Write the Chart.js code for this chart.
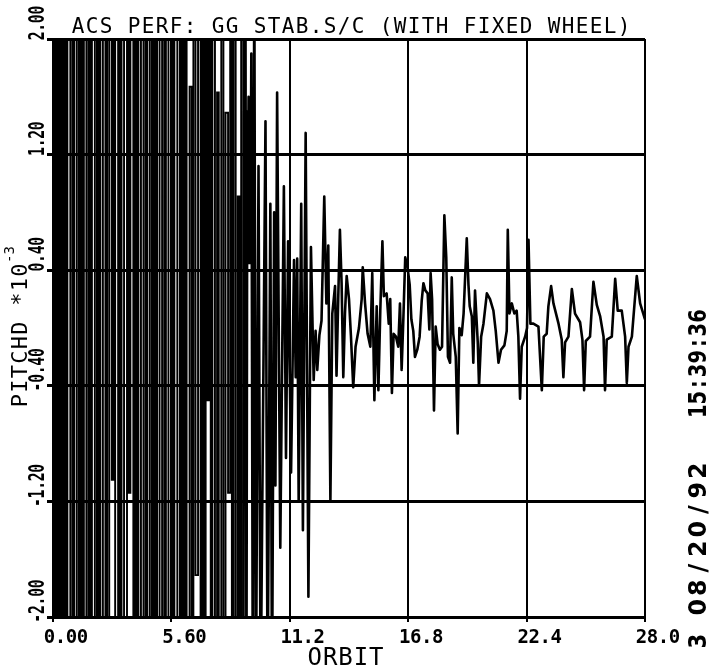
<!DOCTYPE html>
<html>
<head>
<meta charset="utf-8">
<title>ACS PERF: GG STAB.S/C (WITH FIXED WHEEL)</title>
<script src="https://cdn.jsdelivr.net/npm/chart.js@4.4.1/dist/chart.umd.min.js"></script>
<style>
  html, body { margin: 0; padding: 0; background: #fff; }
  #wrap { width: 709px; height: 670px; }
</style>
</head>
<body>
<div id="wrap"><canvas id="pitchChart" width="709" height="670"></canvas></div>
<script>
// Capture phase: pitch swings past the +/-2 limits every sample, drawn as steps
const captureOrbit = [
  0.00, 0.05, 0.12, 0.19, 0.26, 0.33, 0.40, 0.47, 0.54, 0.61, 0.68,
  0.82, 0.92, 1.00, 1.12, 1.22, 1.30, 1.38, 1.46, 1.58, 1.68,
  1.76, 1.84, 1.98, 2.08, 2.16, 2.24, 2.36, 2.48, 2.56, 2.66,
  2.78, 2.86, 2.94, 3.08, 3.16, 3.24, 3.36, 3.50, 3.58, 3.66,
  3.80, 3.88, 3.96, 4.04, 4.16, 4.28, 4.38, 4.46, 4.58, 4.68,
  4.76, 4.84, 4.92, 5.04, 5.16, 5.26, 5.34, 5.46, 5.58, 5.66,
  5.74, 5.88, 6.00, 6.08, 6.16, 6.24, 6.32, 6.46, 6.56, 6.64,
  6.74, 6.86, 6.98, 7.06, 7.14, 7.22, 7.30, 7.38, 7.46, 7.54,
  7.66, 7.76, 7.84, 7.96, 8.06, 8.16, 8.28, 8.38, 8.46, 8.54,
  8.64, 8.74, 8.82, 8.90, 9.00
];
const capturePitch = [
  2.6, -2.6, 2.6, -2.6, 2.6, -2.6, 2.6, -2.6, 2.6, -2.6, 2.6,
  -2.6, 2.6, -2.6, 2.6, -2.6, 2.6, -2.6, 2.6, -2.6, 2.6,
  -2.6, 2.6, -2.6, 2.6, -2.6, 2.6, -2.6, 2.6, -2.6, 2.6,
  -1.05, 2.6, -2.6, 2.6, -2.6, 2.6, -2.6, 2.6, -1.14, 2.6,
  -2.6, 2.6, -2.6, 2.6, -2.6, 2.6, -2.6, 2.6, -2.6, 2.6,
  -2.6, 2.6, -2.6, 2.6, -2.6, 2.6, -2.6, 2.6, -2.6, 2.6,
  -2.6, 2.6, -2.6, 2.6, -2.6, 2.6, -2.6, 1.67, -2.6, 2.6,
  -1.71, 2.6, -2.6, 2.6, -2.6, 2.6, -0.50, 2.6, -2.6, 2.6,
  -2.6, 1.63, -2.6, 2.6, -2.6, 1.49, -1.14, 2.6, -2.6, 2.6,
  -2.6, 0.91, -2.6, 2.6, -2.6
];

// Recovery: swings shrink, then a once-per-orbit limit cycle inside +/-0.4
const recoveryOrbit = [
  9.00, 9.04, 9.07, 9.10, 9.15, 9.19, 9.22, 9.25, 9.28, 9.31,
  9.34, 9.38, 9.45, 9.52, 9.60, 9.72, 9.82, 10.05, 10.15, 10.28,
  10.36, 10.46, 10.52, 10.60, 10.75, 10.92, 11.02, 11.12, 11.26, 11.40,
  11.48, 11.55, 11.62, 11.74, 11.82, 11.95, 12.08, 12.20,
  12.28, 12.33, 12.42, 12.50, 12.60, 12.70, 12.83, 12.93, 13.02,
  13.12, 13.21, 13.34, 13.41, 13.49, 13.57, 13.65, 13.73, 13.81, 13.89,
  14.00, 14.09, 14.20, 14.31, 14.47, 14.60, 14.65, 14.76, 14.88, 15.01,
  15.10, 15.20, 15.31, 15.39, 15.48, 15.58, 15.65, 15.78, 15.88, 15.95,
  16.03, 16.11, 16.22, 16.33, 16.41, 16.49, 16.57, 16.66, 16.77, 16.87,
  16.95, 17.04, 17.12, 17.23, 17.34, 17.44, 17.52, 17.61, 17.72, 17.80,
  17.86, 17.93, 18.02, 18.10, 18.19, 18.30, 18.40, 18.51, 18.60, 18.68,
  18.78, 18.86, 18.93, 19.05, 19.14, 19.22, 19.33, 19.42, 19.57, 19.65,
  19.71, 19.81, 19.88, 19.96, 20.09, 20.15, 20.25, 20.36, 20.52, 20.67,
  20.83, 20.94, 21.07, 21.19, 21.35, 21.46, 21.51, 21.59, 21.70, 21.82,
  21.93, 22.01, 22.09, 22.17, 22.33, 22.42, 22.49, 22.58, 22.72, 22.96,
  23.12, 23.21, 23.35, 23.43, 23.56, 23.67, 23.91, 24.06, 24.14, 24.22,
  24.38, 24.54, 24.69, 24.93, 25.04, 25.12, 25.20, 25.40, 25.56, 25.72,
  25.88, 26.04, 26.11, 26.19, 26.43, 26.59, 26.71, 26.90, 27.06, 27.14,
  27.22, 27.38, 27.61, 27.77, 28.00
];
const recoveryPitch = [
  -2.6, 1.50, 0.45, 2.6, -2.6, 1.50, 0.50, 1.60, 0.45, 1.45,
  0.50, 1.90, -2.6, 2.6, -2.6, 1.12, -2.6, 1.43, -2.6, 0.86,
  -2.6, 0.80, -1.09, 1.63, -1.52, 0.98, -0.90, 0.60, -1.00, 0.47,
  -0.34, 0.48, -1.20, 0.86, -1.40, 1.35, -1.86, 0.56,
  -0.01, -0.36, -0.02, -0.29, -0.05, 0.05, 0.91, 0.17, 0.57,
  -1.19, 0.10, 0.29, -0.33, 0.20, 0.68, 0.31, -0.34, 0.10, 0.36,
  0.20, -0.05, -0.41, -0.13, 0.00, 0.20, 0.42, 0.17, -0.04, -0.13,
  0.38, -0.50, 0.15, -0.43, 0.12, 0.60, 0.22, 0.24, 0.03, 0.20,
  -0.45, -0.04, -0.06, -0.13, 0.17, -0.29, 0.06, 0.49, 0.42, 0.30,
  0.06, -0.02, -0.20, -0.15, -0.06, 0.19, 0.31, 0.26, 0.24, -0.01,
  0.38, 0.20, -0.57, 0.01, -0.11, -0.15, -0.13, 0.78, 0.49, -0.20,
  -0.24, 0.35, -0.04, -0.20, -0.73, 0.00, -0.05, 0.10, 0.62, 0.30,
  0.15, 0.08, -0.24, 0.26, -0.10, -0.40, -0.06, 0.03, 0.24, 0.20,
  0.12, -0.02, -0.24, -0.15, -0.12, -0.02, 0.68, 0.10, 0.17, 0.10,
  0.12, -0.06, -0.49, -0.13, -0.06, 0.00, 0.61, 0.03, 0.03, 0.01,
  -0.43, -0.06, -0.04, 0.15, 0.29, 0.17, 0.03, -0.08, -0.34, -0.10,
  -0.06, 0.27, 0.10, 0.04, -0.08, -0.43, -0.09, -0.06, 0.32, 0.16,
  0.08, -0.06, -0.43, -0.08, -0.06, 0.34, 0.12, 0.12, -0.06, -0.38,
  -0.13, -0.06, 0.36, 0.17, 0.06
];

// Axis ticks
const orbitTicks = [0, 5.6, 11.2, 16.8, 22.4, 28.0];
const orbitTickLabels = ['0.00', '5.60', '11.2', '16.8', '22.4', '28.0'];
const pitchTicks = [-2.0, -1.2, -0.4, 0.4, 1.2, 2.0];
const pitchTickLabels = ['-2.00', '-1.20', '-0.40', '0.40', '1.20', '2.00'];

const INK = '#000';

function toPoints(xs, ys) {
    return xs.map((x, i) => ({ x: x, y: ys[i] }));
}

// Draw a string one glyph per fixed-width cell (plotter style)
function cellText(ctx, text, x, y, pitch) {
    ctx.textAlign = 'center';
    for (let i = 0; i < text.length; i++) {
        ctx.fillText(text[i], x + pitch * (i + 0.5), y);
    }
}

// Same, but running bottom-to-top from (x, y)
function cellTextUp(ctx, text, x, y, pitch, squeeze) {
    ctx.save();
    ctx.translate(x, y);
    ctx.rotate(-Math.PI / 2);
    if (squeeze) ctx.scale(squeeze, 1);
    cellText(ctx, text, 0, 0, pitch / (squeeze || 1));
    ctx.restore();
}

const plotterText = {
    id: 'plotterText',
    afterDraw(chart) {
        const ctx = chart.ctx;
        const xs = chart.scales.x;
        const ys = chart.scales.y;
        ctx.save();
        ctx.fillStyle = INK;
        ctx.textBaseline = 'alphabetic';

        // title
        ctx.font = '21px "DejaVu Sans Mono"';
        cellText(ctx, 'ACS PERF: GG STAB.S/C (WITH FIXED WHEEL)', 71, 33, 14);

        // orbit tick labels
        ctx.font = 'bold 19px "DejaVu Sans Mono"';
        orbitTicks.forEach((v, i) => {
            cellText(ctx, orbitTickLabels[i], xs.getPixelForValue(v) - 9, 643, 11);
        });

        // x axis title
        ctx.font = '24px "DejaVu Sans Mono"';
        cellText(ctx, 'ORBIT', 307, 665, 15.4);

        // pitch tick labels, rotated
        ctx.font = 'bold 21px "DejaVu Sans Mono"';
        pitchTicks.forEach((v, i) => {
            const label = pitchTickLabels[i];
            const len = label.length * 8.6;
            cellTextUp(ctx, label, 44, ys.getPixelForValue(v) - 16 + len / 2, 8.6, 0.7);
        });

        // y axis title with exponent
        ctx.font = '22px "DejaVu Sans Mono"';
        cellTextUp(ctx, 'PITCHD *10', 27, 408, 14.5);
        ctx.font = '14px "DejaVu Sans Mono"';
        cellTextUp(ctx, '-3', 14, 263, 8.5);

        // run stamp along the right edge
        ctx.font = 'bold 25px "DejaVu Sans"';
        cellTextUp(ctx, '3', 706, 650, 18, 0.85);
        cellTextUp(ctx, '08/20/92', 706, 617, 19.5, 0.95);
        cellTextUp(ctx, '15:39:36', 706, 418, 13.6, 0.78);

        ctx.restore();
    }
};

new Chart(document.getElementById('pitchChart'), {
    type: 'line',
    data: {
        datasets: [{
            label: 'capture',
            data: toPoints(captureOrbit, capturePitch),
            stepped: true,
            borderColor: INK,
            borderWidth: 1.9,
            pointRadius: 0,
            clip: 0
        }, {
            label: 'recovery',
            data: toPoints(recoveryOrbit, recoveryPitch),
            borderColor: INK,
            borderWidth: 2.6,
            borderJoinStyle: 'round',
            pointRadius: 0,
            clip: 0
        }]
    },
    options: {
        responsive: false,
        animation: false,
        layout: {
            padding: { left: 53, right: 64, top: 39, bottom: 53 }
        },
        plugins: {
            legend: { display: false },
            tooltip: { enabled: false }
        },
        scales: {
            x: {
                type: 'linear',
                min: 0,
                max: 28,
                afterBuildTicks: function(scale) {
                    scale.ticks = orbitTicks.map(v => ({ value: v }));
                },
                afterFit: function(scale) {
                    scale.height = 0;
                },
                ticks: { display: false },
                grid: {
                    color: INK,
                    lineWidth: 2,
                    tickLength: 5
                },
                border: { color: INK, width: 3 }
            },
            y: {
                min: -2,
                max: 2,
                afterBuildTicks: function(scale) {
                    scale.ticks = pitchTicks.map(v => ({ value: v }));
                },
                afterFit: function(scale) {
                    scale.width = 0;
                },
                ticks: { display: false },
                grid: {
                    color: INK,
                    lineWidth: 3,
                    tickLength: 6
                },
                border: { color: INK, width: 3 }
            }
        }
    },
    plugins: [plotterText]
});
</script>
</body>
</html>
